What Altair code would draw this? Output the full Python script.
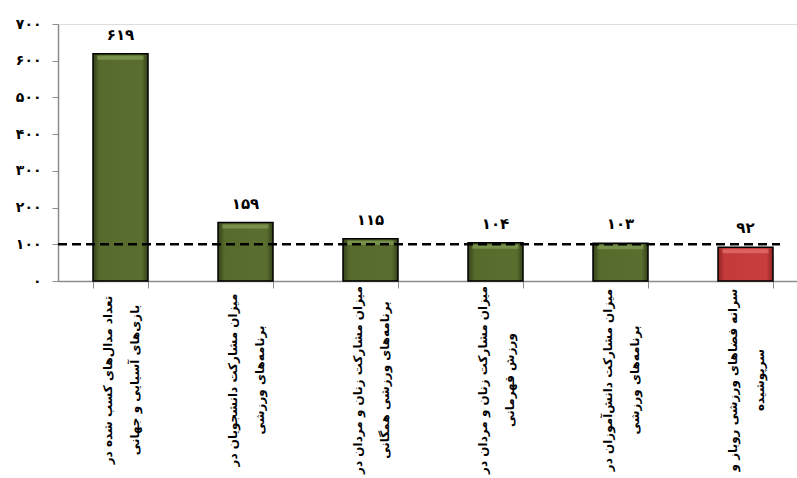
import altair as alt
import pandas as pd

categories = [
    "تعداد مدال‌های کسب شده در\nبازی‌های آسیایی و جهانی",
    "میزان مشارکت دانشجویان در\nبرنامه‌های ورزشی",
    "میزان مشارکت زنان و مردان در\nبرنامه‌های ورزشی همگانی",
    "میزان مشارکت زنان و مردان در\nورزش قهرمانی",
    "میزان مشارکت دانش‌آموزان در\nبرنامه‌های ورزشی",
    "سرانه فضاهای ورزشی روباز و\nسرپوشیده",
]
values = [619, 159, 115, 104, 103, 92]
value_labels = ["۶۱۹", "۱۵۹", "۱۱۵", "۱۰۴", "۱۰۳", "۹۲"]
y_ticks = [0, 100, 200, 300, 400, 500, 600, 700]
y_tick_labels = ["۰", "۱۰۰", "۲۰۰", "۳۰۰", "۴۰۰", "۵۰۰", "۶۰۰", "۷۰۰"]
threshold = 100

FONT = "DejaVu Sans"
W, H = 739, 257

df = pd.DataFrame({"cat": categories, "value": values, "label": value_labels,
                   "t": [threshold] * len(values)})

label_map = "{" + ",".join(f"'{t}':'{l}'" for t, l in zip(y_ticks, y_tick_labels)) + "}"

x_enc = alt.X(
    "cat:N",
    sort=categories,
    scale=alt.Scale(range=[0, 750], paddingInner=0.56, paddingOuter=0.28),
    axis=alt.Axis(labels=False, title=None, tickBand="extent", domainColor="#8c8c8c",
                  tickColor="#8c8c8c", tickSize=7, domainWidth=1.5),
)
y_scale = alt.Scale(domain=[0, 700], nice=False)
y_axis = alt.Axis(values=y_ticks, labelExpr=label_map + "[datum.value]", title=None, grid=False,
                  domainColor="#8c8c8c", tickColor="#8c8c8c", tickSize=6, domainWidth=1.5,
                  labelFont=FONT, labelFontSize=14, labelFontWeight="bold", labelColor="black",
                  labelPadding=11, labelOverlap=False, labelFlush=False, tickCount=8)
y_enc = alt.Y("value:Q", scale=y_scale, axis=y_axis)

base = alt.Chart(df)

green_grad = alt.Gradient(
    gradient="linear", x1=0, x2=1, y1=0, y2=0,
    stops=[alt.GradientStop(color="#34421a", offset=0), alt.GradientStop(color="#566a2c", offset=0.12),
           alt.GradientStop(color="#5a6f2f", offset=0.88), alt.GradientStop(color="#34421a", offset=1)],
)
red_grad = alt.Gradient(
    gradient="linear", x1=0, x2=1, y1=0, y2=0,
    stops=[alt.GradientStop(color="#8f2323", offset=0), alt.GradientStop(color="#c43a3a", offset=0.12),
           alt.GradientStop(color="#c83d3d", offset=0.88), alt.GradientStop(color="#8f2323", offset=1)],
)

bars_green = base.transform_filter(alt.datum.value >= threshold).mark_bar(
    fill=green_grad, stroke="black", strokeWidth=1.5
).encode(x=x_enc, y=y_enc)
bars_red = base.transform_filter(alt.datum.value < threshold).mark_bar(
    fill=red_grad, stroke="black", strokeWidth=1.5
).encode(x=x_enc, y=y_enc)

hl_green = base.transform_filter(alt.datum.value >= threshold).mark_tick(
    color="#7d9650", thickness=4, size=46, yOffset=4, opacity=0.85
).encode(x=x_enc, y=y_enc)
hl_red = base.transform_filter(alt.datum.value < threshold).mark_tick(
    color="#e06a6a", thickness=4, size=46, yOffset=4, opacity=0.85
).encode(x=x_enc, y=y_enc)

value_text = base.mark_text(
    font=FONT, fontSize=15, fontWeight="bold", color="black", baseline="bottom", dy=-11
).encode(x=x_enc, y=y_enc, text="label:N")

cat_text = base.mark_text(
    font=FONT, fontSize=12, fontWeight="bold", color="black", angle=270, align="center",
    baseline="middle", lineBreak="\n", lineHeight=27, dy=-13
).encode(x=x_enc, y=alt.value(H + 99), text="cat:N")

rule = base.transform_aggregate(t="max(t)").mark_rule(
    color="black", strokeDash=[9, 5], strokeWidth=2.6
).encode(y=alt.Y("t:Q", scale=y_scale, axis=y_axis), x=alt.value(0), x2=alt.value(722))

chart = alt.layer(bars_green, bars_red, hl_green, hl_red, value_text, cat_text, rule).properties(
    width=W, height=H,
    autosize=alt.AutoSizeParams(type="none"),
    padding={"left": 58, "top": 24, "right": 0, "bottom": 197},
).configure_view(stroke=None).configure(background="white")

chart.save("out.html", embed_options={"renderer": "svg", "actions": False})
